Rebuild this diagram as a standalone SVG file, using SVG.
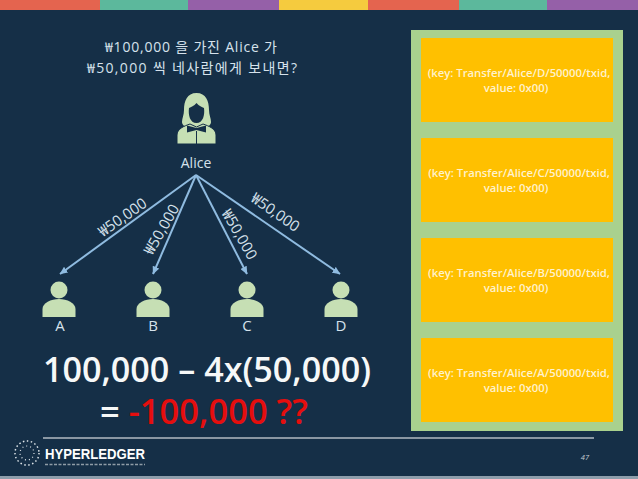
<svg xmlns="http://www.w3.org/2000/svg" width="638" height="479" viewBox="0 0 638 479">
<style>
text{font-family:"Open Sans","Noto Sans CJK KR",sans-serif;fill:#eef3f6;text-anchor:middle}
.lbl{font-size:14px;fill:#d6e2ec}
.node{font-size:15px;fill:#d6e2ec}
.amt{font-size:15px;fill:#d6e2ec}
.big{font-size:34px;font-weight:600;fill:#f6f8f8}
.kv{font-size:11.300px;font-weight:600;fill:#fff2cc}
.p{fill:#c6dfb4}
.d{fill:#152f47}
.box{fill:#ffc000}
.arr{stroke:#8fbbe0;stroke-width:2;fill:none;marker-end:url(#ah)}
</style>
<defs>
<marker id="ah" markerUnits="userSpaceOnUse" markerWidth="8" markerHeight="7" refX="7.500" refY="3.500" orient="auto"><path d="M0 0L8 3.500L0 7Z" fill="#8fbbe0"/></marker>
<g id="person"><circle cx="0" cy="-19" r="8.500" class="p"/><path class="p" d="M-16.500 8V0C-16.500-6-8-10 0-10S16.500-6 16.500 0V8Z"/></g>
</defs>
<rect width="638" height="479" fill="#152f47"/>
<rect y="476" width="638" height="3" fill="#8d9dab"/>
<g id="topbar">
<rect x="0" width="100" height="10" fill="#e4644f"/>
<rect x="100" width="88" height="10" fill="#5cb89c"/>
<rect x="188" width="91" height="10" fill="#9560a8"/>
<rect x="279" width="89" height="10" fill="#f5cb3e"/>
<rect x="368" width="91" height="10" fill="#e4644f"/>
<rect x="459" width="88" height="10" fill="#5cb89c"/>
<rect x="547" width="91" height="10" fill="#9560a8"/>
</g>
<g id="title">
<text class="lbl" x="191" y="52" textLength="172" lengthAdjust="spacing">₩100,000 을 가진 Alice 가</text>
<text class="lbl" x="192" y="73" textLength="210" lengthAdjust="spacing">₩50,000 씩 네사람에게 보내면?</text>
</g>
<g id="connectors">
<line class="arr" x1="196" y1="175" x2="60" y2="274"/>
<line class="arr" x1="196" y1="175" x2="153" y2="274"/>
<line class="arr" x1="196" y1="175" x2="247" y2="274"/>
<line class="arr" x1="196" y1="175" x2="340" y2="274"/>
<text class="amt" transform="translate(125.500 221.500) rotate(-35)">₩50,000</text>
<text class="amt" transform="translate(166 232) rotate(-60)">₩50,000</text>
<text class="amt" transform="translate(235 237) rotate(60)">₩50,000</text>
<text class="amt" transform="translate(272.500 216.500) rotate(35)">₩50,000</text>
</g>
<g id="alice">
<path class="p" d="M196.500 93C187 93 184 101 184 110C184 115 182 118 182 122C182 125 185 127 189 127H204C208 127 211 125 211 122C211 118 209 115 209 110C209 101 206 93 196.500 93Z"/>
<path class="p" d="M177 144V135C177 129 184 126 190 124L196.500 127L203 124C209 126 216 129 216 135V144Z" stroke="#152f47" stroke-width="1"/>
<path class="d" d="M196.500 103C194 106 191 107 189 108C188 115 190 123 196.500 123C203 123 205 115 204 108C202 107 199 106 196.500 103Z"/>
<path class="d" d="M187 125.500L196.500 128L206 125.500V132.500L196.500 130L187 132.500Z"/>
<rect class="d" x="196" y="131" width="1" height="13"/>
<text class="lbl" x="196" y="168">Alice</text>
</g>
<g id="nodeA"><use href="#person" x="59" y="309"/><text class="node" x="60" y="331">A</text></g>
<g id="nodeB"><use href="#person" x="153" y="309"/><text class="node" x="153" y="331">B</text></g>
<g id="nodeC"><use href="#person" x="247" y="309"/><text class="node" x="247" y="331">C</text></g>
<g id="nodeD"><use href="#person" x="341" y="309"/><text class="node" x="341" y="331">D</text></g>
<g id="formula">
<text class="big" x="207" y="382" textLength="328" lengthAdjust="spacingAndGlyphs">100,000 – 4x(50,000)</text>
<text class="big" x="204" y="424" textLength="208" lengthAdjust="spacingAndGlyphs">= <tspan style="fill:#e50e0e">-100,000 ??</tspan></text>
</g>
<g id="panel"><rect x="411" y="30" width="212" height="401" fill="#a9d18e"/></g>
<g id="entryD"><rect class="box" x="421" y="38" width="192" height="84"/><text class="kv" x="519" y="77">(key: Transfer/Alice/D/50000/txid,</text><text class="kv" x="516" y="92">value: 0x00)</text></g>
<g id="entryC"><rect class="box" x="421" y="138" width="192" height="84"/><text class="kv" x="519" y="177">(key: Transfer/Alice/C/50000/txid,</text><text class="kv" x="516" y="192">value: 0x00)</text></g>
<g id="entryB"><rect class="box" x="421" y="238" width="192" height="84"/><text class="kv" x="519" y="277">(key: Transfer/Alice/B/50000/txid,</text><text class="kv" x="516" y="292">value: 0x00)</text></g>
<g id="entryA"><rect class="box" x="421" y="338" width="192" height="84"/><text class="kv" x="519" y="377">(key: Transfer/Alice/A/50000/txid,</text><text class="kv" x="516" y="392">value: 0x00)</text></g>
<g id="footer">
<line x1="43" y1="438" x2="594" y2="438" stroke="#ffffff" stroke-width="1.200"/>
<circle cx="27" cy="453" r="12" fill="none" stroke="#dfe6ea" stroke-width="1.500" stroke-dasharray="1.500 2.500"/>
<circle cx="27" cy="453" r="7" fill="none" stroke="#dfe6ea" stroke-width="1.200" stroke-dasharray="1 3"/>
<text x="45" y="459" style="text-anchor:start;font-family:'Liberation Sans',sans-serif;font-size:14.500px;font-weight:700;fill:#fff" textLength="100" lengthAdjust="spacingAndGlyphs">HYPERLEDGER</text>
<line x1="45" y1="464.500" x2="145" y2="464.500" stroke="#8f9ca6" stroke-width="1.500" stroke-dasharray="3 1.500"/>
<text x="585" y="460" style="font-size:7.500px;fill:#c3ccd3;font-style:italic">47</text>
</g>
</svg>
